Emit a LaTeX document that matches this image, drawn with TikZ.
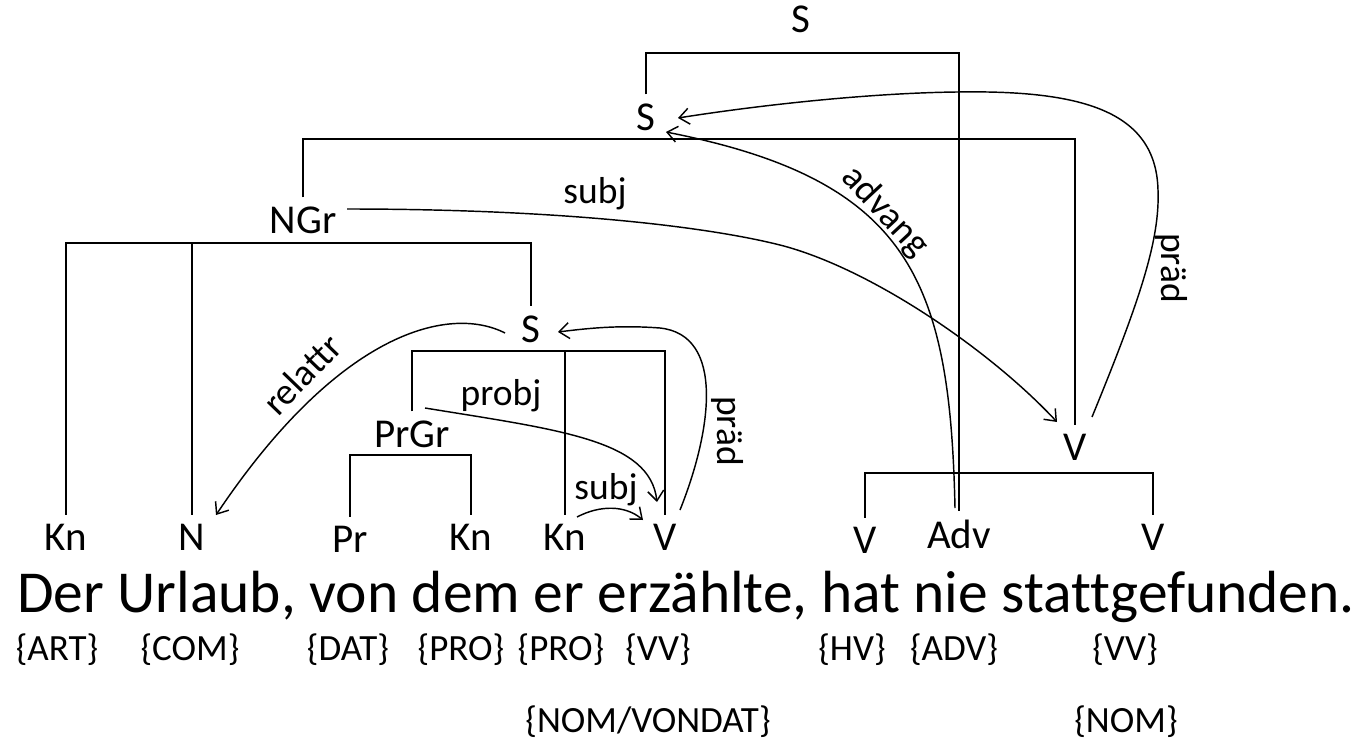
\documentclass[tikz,border=0pt]{standalone}
\usepackage{fontspec}
\setmainfont{Carlito}[Ligatures=NoCommon]
\usetikzlibrary{arrows.meta}
\begin{document}
\begin{tikzpicture}[x=1pt,y=-1pt,
  lab/.style={font=\fontsize{41}{41}\selectfont, inner sep=0pt, outer xsep=3pt, outer ysep=9pt, anchor=base},
  rel/.style={font=\fontsize{37.5}{37.5}\selectfont, inner sep=0pt},
  tag/.style={font=\fontsize{37}{37}\selectfont, inner sep=0pt, anchor=base},
  br/.style={line width=1.7pt},
  arr/.style={line width=1.45pt, -{Straight Barb[length=10pt,width=16pt]}}]
\useasboundingbox (0,0) rectangle (1365,744);
% category labels
\node[lab] (Stop) at (801,32) {S};
\node[lab] (S2) at (646,130) {S};
\node[lab] (NGr) at (303,233) {NGr};
\node[lab] (Sin) at (531,342) {S};
\node[lab] (PrGr) at (412,447) {PrGr};
\node[lab] (Vm) at (1075,460) {V};
\node[lab] (Kn1) at (66,550) {Kn};
\node[lab] (N) at (192,550) {N};
\node[lab] (Pr) at (350,552) {Pr};
\node[lab] (Kn2) at (471,550) {Kn};
\node[lab] (Kn3) at (565,550) {Kn};
\node[lab] (V1) at (665,550) {V};
\node[lab] (V2) at (865,553) {V};
\node[lab] (Adv) at (959,548) {Adv};
\node[lab] (V3) at (1153,550) {V};
% brackets
\draw[br] (S2.north) -- (S2.north |- 0,53) -- (Adv.north |- 0,53) -- (Adv.north);
\draw[br] (NGr.north) -- (NGr.north |- 0,139) -- (Vm.north |- 0,139) -- (Vm.north);
\draw[br] (Kn1.north) -- (Kn1.north |- 0,243) -- (Sin.north |- 0,243) -- (Sin.north);
\draw[br] (N.north) -- (N.north |- 0,243);
\draw[br] (PrGr.north) -- (PrGr.north |- 0,351) -- (V1.north |- 0,351) -- (V1.north);
\draw[br] (Kn3.north) -- (Kn3.north |- 0,351);
\draw[br] (Pr.north) -- (Pr.north |- 0,455) -- (Kn2.north |- 0,455) -- (Kn2.north);
\draw[br] (V2.north) -- (V2.north |- 0,473) -- (V3.north |- 0,473) -- (V3.north);
% relation arrows
\draw[arr] ([xshift=44pt,yshift=24pt]NGr.base) .. controls (550,209) and (700,225) .. (780,245)
   .. controls (870,268) and (990,350) .. ([xshift=-18pt,yshift=38pt]Vm.base);
\draw[arr] ([xshift=-4pt,yshift=40pt]Adv.base) .. controls (950,280) and (910,180) .. ([xshift=20pt,yshift=-2pt]S2.base);
\draw[arr] ([xshift=17pt,yshift=43pt]Vm.base) .. controls (1140,300) and (1160,240) .. (1158,190)
   .. controls (1156,110) and (1080,90) .. (957,92)
   .. controls (870,93) and (760,105) .. ([xshift=32pt,yshift=12pt]S2.base);
\draw[arr] ([xshift=-26pt,yshift=9pt]Sin.base) .. controls (450,305) and (340,330) .. ([xshift=24pt,yshift=35pt]N.base);
\draw[arr] ([xshift=15pt,yshift=40pt]V1.base) .. controls (712,430) and (725,335) .. (660,328)
   .. controls (620,325) and (590,328) .. ([xshift=27pt,yshift=10pt]Sin.base);
\draw[arr] ([xshift=13pt,yshift=39pt]PrGr.base) .. controls (560,430) and (650,440) .. ([xshift=-8pt,yshift=48pt]V1.base);
\draw[arr] ([xshift=12pt,yshift=33pt]Kn3.base) .. controls (600,505) and (625,505) .. ([xshift=-22pt,yshift=30pt]V1.base);
% relation labels
\node[rel] (lsubj) at (595,194) {subj};
\node[rel, rotate=-47] (ladv) at (885,212) {advang};
\node[rel, rotate=-90] (lpraed) at (1171,268) {präd};
\node[rel, rotate=46] (lrel) at (302,374) {relattr};
\node[rel, rotate=-90] (lpraed2) at (727,431) {präd};
\node[rel] (lprobj) at (501,396) {probj};
\node[rel] (lsubj2) at (606,490) {subj};
% sentence
\node[font=\fontsize{59.5}{59.5}\selectfont, inner sep=0pt, anchor=base west] (sent) at (17,612) {Der Urlaub, von dem er erzählte, hat nie stattgefunden.};
% tags
\node[tag] (t1) at (57,660) {\{ART\}};
\node[tag] (t2) at (190,660) {\{COM\}};
\node[tag] (t3) at (348,660) {\{DAT\}};
\node[tag] (t4) at (461,660) {\{PRO\}};
\node[tag] (t5) at (561,660) {\{PRO\}};
\node[tag] (t6) at (658,660) {\{VV\}};
\node[tag] (t7) at (852,660) {\{HV\}};
\node[tag] (t8) at (954,660) {\{ADV\}};
\node[tag] (t9) at (1125,660) {\{VV\}};
\node[tag] (t10) at (648,732) {\{NOM/VONDAT\}};
\node[tag] (t11) at (1126,732) {\{NOM\}};
\end{tikzpicture}
\end{document}
